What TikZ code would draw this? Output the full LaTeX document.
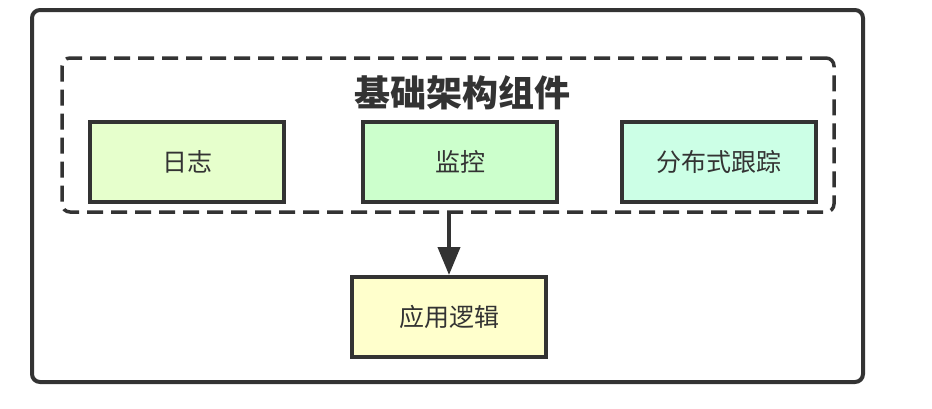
\documentclass[tikz,border=0pt]{standalone}
\usepackage{fontspec}
\setmainfont{Noto Sans CJK SC}
\usetikzlibrary{arrows.meta}
\definecolor{strk}{HTML}{333333}
\definecolor{cLog}{HTML}{E6FFCC}
\definecolor{cMon}{HTML}{CCFFCC}
\definecolor{cTrace}{HTML}{CCFFE6}
\definecolor{cApp}{HTML}{FFFFCC}
\begin{document}
\begin{tikzpicture}[x=1pt,y=-1pt,
  compbox/.style={draw=strk,line width=4pt,minimum width=194pt,minimum height=80pt,inner sep=0pt,font=\fontsize{25}{29}\selectfont,text=strk},
]
\useasboundingbox (0,0) rectangle (932,408);
\fill[white] (0,0) rectangle (932,408);
\node[draw=strk,line width=4pt,rounded corners=8pt,minimum width=831pt,minimum height=372pt,inner sep=0pt] (outer) at (447.5,196) {};
\node[draw=strk,line width=3.5pt,rounded corners=8pt,dash pattern=on 16pt off 8pt,minimum width=772pt,minimum height=154pt,inner sep=0pt] (infra) at (448,135) {};
\node[font=\bfseries\fontsize{36}{42}\selectfont,text=strk] (title) at (462,93) {基础架构组件};
\node[compbox,fill=cLog] (log) at (187,162) {日志};
\node[compbox,fill=cMon] (mon) at (460,162) {监控};
\node[compbox,fill=cTrace] (trace) at (719,162) {分布式跟踪};
\node[compbox,fill=cApp] (app) at (449,317) {应用逻辑};
\draw[strk,line width=4pt,-{Triangle[length=28pt,width=22pt]}] (infra.south -| app.north) -- (app.north);
\end{tikzpicture}
\end{document}
